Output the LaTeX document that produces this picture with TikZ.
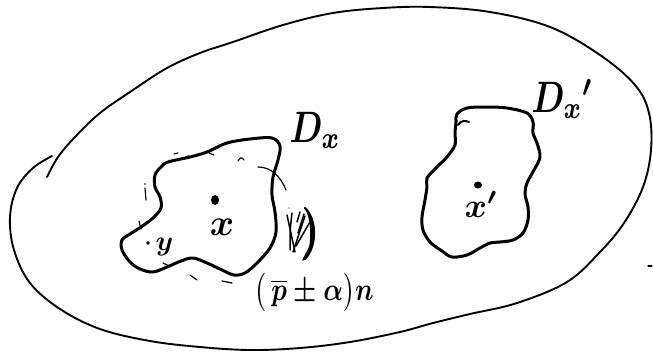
\documentclass[tikz,border=0pt]{standalone}
\begin{document}
\begin{tikzpicture}[x=1pt,y=-1pt,line cap=round,line join=round,
  outer/.style={line width=1.9pt},
  blob/.style={line width=3pt},
  sketch/.style={line width=1.2pt},
  lbl/.style={inner sep=0pt,font=\boldmath}]
\useasboundingbox (0,0) rectangle (653,356);
% outer closed curve (one stroke, ends overlapping on the left)
\draw[outer] plot[smooth,tension=0.6] coordinates {(47,177) (58,157) (75,137) (100,113) (133,90) (167,68) (200,53) (233,42) (283,25) (333,13) (383,8) (430,7) (490,12) (550,27) (600,55) (635,85) (649,113) (651,150) (643,187) (624,223) (600,252) (567,282) (517,303) (470,314) (433,323) (400,332) (350,342) (300,348) (250,350) (200,347) (150,341) (100,329) (60,309) (30,283) (14,250) (10,217) (17,188) (33,168) (52,156)};
% region D_x
\draw[blob] plot[smooth cycle,tension=0.55] coordinates {(168,162) (190,157) (207,152) (227,143) (250,139) (272,138) (280,146) (278,160) (273,177) (272,195) (275,212) (276,232) (270,248) (257,263) (245,273) (234,275) (222,270) (207,263) (193,258) (181,261) (167,267) (153,272) (140,269) (130,262) (122,250) (122,240) (130,234) (141,227) (153,218) (161,208) (160,197) (155,187) (155,175) (161,167)};
% region D_x'
\draw[blob] plot[smooth cycle,tension=0.55] coordinates {(457,114) (467,108) (487,107) (507,108) (527,113) (533,122) (533,133) (537,143) (540,157) (534,170) (527,183) (525,194) (528,207) (528,220) (523,233) (513,240) (500,242) (490,243) (480,248) (467,255) (452,257) (442,251) (430,242) (423,230) (422,217) (425,200) (427,187) (427,178) (437,167) (447,157) (455,145) (455,133) (456,122)};
\draw[line width=2pt] (458,125) .. controls (460,121) and (465,120) .. (469,122);
% sketchy outer trace around D_x
\draw[sketch] (174,154) -- (178,153);
\draw[sketch] (186,157) -- (189,156);
\draw[sketch] (209,153) -- (214,155);
\draw[sketch] (238,161) .. controls (240,157) and (242,157) .. (244,160);
\draw[sketch] (258,167) .. controls (270,167) and (280,175) .. (286,190);
\draw[sketch] (145,188) -- (146,200);
\fill (145,184) circle (0.8);
\draw[sketch] (139,221) -- (141,229);
\draw[sketch] (163,263) -- (169,266);
\draw[sketch] (190,275) -- (197,280);
\draw[sketch] (222,281) -- (232,283);
\draw[sketch] (648,266) -- (652,266);
% hatched sliver
\fill (305,208) .. controls (318,220) and (318,246) .. (305,259)
      .. controls (312,246) and (312,222) .. (305,208) -- cycle;
\draw[line width=2.2pt] (305,208) .. controls (317,220) and (317,246) .. (305,259);
\draw[line width=1.5pt] (287,215) -- (295,252);
\draw[line width=1.5pt] (292,213) .. controls (290,230) .. (290,250);
\draw[line width=1.5pt] (293,252) -- (305,216);
\draw[line width=1.5pt] (296,246) -- (310,222);
\draw[line width=1.5pt] (298,233) -- (304,214);
\draw[line width=1.5pt] (303,260) -- (312,243);
\draw[line width=1.5pt] (297,222) -- (300,212);
\fill (289,208) circle (0.6);
% points
\fill (215,200) ellipse (4 and 5);
\fill (478,185) ellipse (4 and 3.5);
\fill (148,243) circle (1.8);
% labels
\node[lbl,anchor=base west,xscale=3.4,yscale=4.4] (dx) at (289,142) {$D_x$};
\node[lbl,anchor=base west,xscale=3.4,yscale=4.4] (dxp) at (531,112) {$D_x{}'$};
\node[lbl,scale=3.7] (x) at (222,227) {$x$};
\node[lbl,anchor=base west,scale=3.4] (xp) at (464,217) {$x'$};
\node[lbl,anchor=base west,scale=2.8] (y) at (155,250) {$y$};
\node[lbl,xscale=2.6,yscale=3.2] (lab) at (314,292) {$\bigl(\,\overline{p}\pm\alpha\bigr)n$};
\end{tikzpicture}
\end{document}
